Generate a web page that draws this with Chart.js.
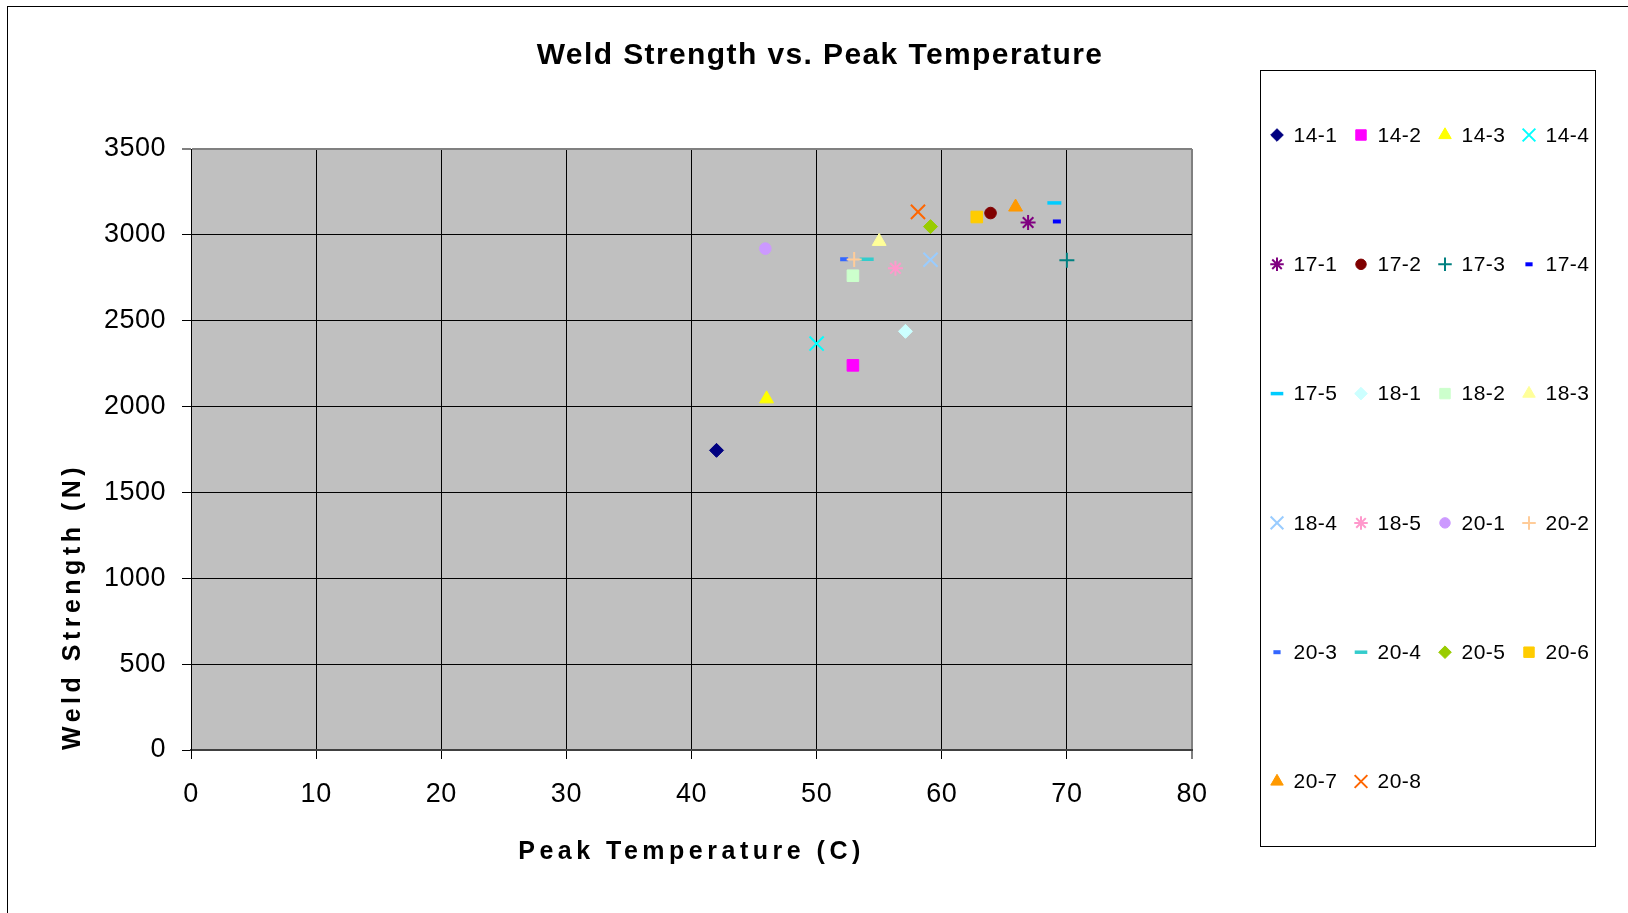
<!DOCTYPE html>
<html>
<head>
<meta charset="utf-8">
<title>Weld Strength vs. Peak Temperature</title>
<script src="https://cdn.jsdelivr.net/npm/chart.js@4.4.1/dist/chart.umd.min.js"></script>
<style>
  html, body { margin: 0; padding: 0; background: #fff; }
  canvas { display: block; }
</style>
</head>
<body>
<canvas id="weldChart" width="1628" height="913"></canvas>
<script>
// one point per weld sample
const seriesNames = ['14-1', '14-2', '14-3', '14-4', '17-1', '17-2', '17-3', '17-4', '17-5', '18-1', '18-2',
  '18-3', '18-4', '18-5', '20-1', '20-2', '20-3', '20-4', '20-5', '20-6', '20-7', '20-8'];
const peakTemps = [42, 52.9, 46, 50, 66.9, 63.9, 70, 69.2, 69, 57.1, 52.9,
  55, 59.1, 56.3, 45.9, 53, 52.2, 54, 59.1, 62.8, 65.9, 58.1];
const weldStrengths = [1745, 2240, 2045, 2367, 3072, 3127, 2852, 3078, 3186, 2438, 2762,
  2962, 2855, 2805, 2920, 2857, 2858, 2858, 3048, 3104, 3162, 3134];

const xTickValues = [0, 10, 20, 30, 40, 50, 60, 70, 80];
const yTickValues = [0, 500, 1000, 1500, 2000, 2500, 3000, 3500];

const seriesColors = ['#000080', '#FF00FF', '#FFFF00', '#00FFFF', '#800080', '#800000', '#008080', '#0000FF',
  '#00CCFF', '#CCFFFF', '#CCFFCC', '#FFFF99', '#99CCFF', '#FF99CC', '#CC99FF', '#FFCC99', '#3366FF', '#33CCCC',
  '#99CC00', '#FFCC00', '#FF9900', '#FF6600'];
const seriesMarkers = ['diamond', 'square', 'triangle', 'x', 'star', 'circle', 'plus', 'dashS', 'dashL',
  'diamond', 'square', 'triangle', 'x', 'star', 'circle', 'plus', 'dashS', 'dashL', 'diamond', 'square',
  'triangle', 'x'];

const FONT = "'Liberation Sans', Arial, sans-serif";

const MARKERS = {
  diamond: { pointStyle: 'rectRot', radius: 7, fill: true },
  square: { pointStyle: 'rect', radius: 8.2, fill: true },
  triangle: { pointStyle: 'triangle', radius: 8, fill: true },
  circle: { pointStyle: 'circle', radius: 5.8, fill: true },
  x: { pointStyle: 'crossRot', radius: 10, width: 2 },
  star: { pointStyle: 'star', radius: 7.5, width: 2 },
  plus: { pointStyle: 'cross', radius: 7.5, width: 2 },
  dashS: { pointStyle: 'line', radius: 4, width: 4 },
  dashL: { pointStyle: 'line', radius: 7, width: 3.5 }
};

const canvas = document.getElementById('weldChart');
const ctx = canvas.getContext('2d');

// Excel-style spaced out lettering: choose a letter spacing from whatever font gets set
const fontProp = Object.getOwnPropertyDescriptor(CanvasRenderingContext2D.prototype, 'font');
Object.defineProperty(ctx, 'font', {
  get() { return fontProp.get.call(this); },
  set(value) {
    fontProp.set.call(this, value);
    const size = parseFloat((value.match(/([\d.]+)px/) || [0, 12])[1]);
    const bold = /bold/.test(value);
    this.letterSpacing = bold ? (size >= 28 ? '1.4px' : '4.5px') : '0.5px';
  }
});

const datasets = seriesNames.map((name, i) => {
  const m = MARKERS[seriesMarkers[i]];
  return {
    label: name,
    data: [{ x: peakTemps[i], y: weldStrengths[i] }],
    pointStyle: m.pointStyle,
    pointRadius: m.radius,
    backgroundColor: m.fill ? seriesColors[i] : 'rgba(0,0,0,0)',
    borderColor: seriesColors[i],
    borderWidth: m.fill ? 1 : m.width
  };
});

const drawLegend = (chart) => {
  const c = chart.ctx;
  c.save();
  c.fillStyle = '#fff';
  c.fillRect(1260.5, 70.5, 335, 776);
  c.strokeStyle = '#000';
  c.lineWidth = 1;
  c.strokeRect(1260.5, 70.5, 335, 776);
  chart.data.datasets.forEach((ds, i) => {
    const col = i % 4;
    const row = Math.floor(i / 4);
    const x = 1277 + col * 84;
    const y = 135 + row * 129.3;
    c.fillStyle = ds.backgroundColor;
    c.strokeStyle = ds.borderColor;
    c.lineWidth = ds.borderWidth;
    Chart.helpers.drawPoint(c, {
      pointStyle: ds.pointStyle,
      radius: ds.pointRadius * 0.9,
      borderWidth: ds.borderWidth,
      rotation: 0
    }, x, y);
    c.font = '21px ' + FONT;
    c.textAlign = 'left';
    c.textBaseline = 'middle';
    c.fillStyle = '#000';
    c.fillText(ds.label, x + 16.5, y + 1);
  });
  c.restore();
};

// reserves the right hand strip and paints the legend there
const legendPanel = {
  id: 'legendPanel',
  beforeInit(chart) {
    Chart.layouts.addBox(chart, {
      position: 'right',
      weight: 10,
      fullSize: false,
      options: {},
      top: 0, left: 0, right: 0, bottom: 0, width: 0, height: 0,
      isHorizontal() { return false; },
      update(maxWidth, maxHeight) { this.width = 436; this.height = maxHeight; },
      draw() { drawLegend(chart); }
    });
  }
};

const plotBackdrop = {
  id: 'plotBackdrop',
  beforeDraw(chart) {
    const c = chart.ctx;
    const a = chart.chartArea;
    c.save();
    c.strokeStyle = '#000';
    c.lineWidth = 1;
    c.strokeRect(7.5, 6.5, chart.width + 10, chart.height + 10);
    c.fillStyle = '#c0c0c0';
    c.fillRect(a.left, a.top, a.right - a.left, a.bottom - a.top);
    c.restore();
  }
};

new Chart(ctx, {
  type: 'scatter',
  data: { datasets },
  plugins: [legendPanel, plotBackdrop],
  options: {
    responsive: false,
    animation: false,
    devicePixelRatio: 1,
    events: [],
    layout: { padding: { left: 12, right: 0, top: 0, bottom: 0 } },
    plugins: {
      legend: { display: false },
      tooltip: { enabled: false },
      title: {
        display: true,
        text: 'Weld Strength vs. Peak Temperature',
        color: '#000',
        font: { size: 30, weight: 'bold', family: FONT },
        padding: { top: 38, bottom: 75 }
      }
    },
    scales: {
      x: {
        type: 'linear',
        position: 'bottom',
        min: 0,
        max: 80,
        afterBuildTicks: (s) => { s.ticks = xTickValues.map(v => ({ value: v })); },
        afterFit: (s) => { s.height = 163; },
        grid: {
          color: (c) => (c.tick && c.tick.value === 80 ? '#808080' : '#000'),
          lineWidth: (c) => (c.tick && c.tick.value === 80 ? 2 : 1),
          tickLength: 9,
          tickColor: '#000',
          tickWidth: 1
        },
        border: { color: '#404040', width: 2 },
        ticks: {
          color: '#000',
          font: { size: 27, family: FONT },
          padding: 19,
          maxRotation: 0,
          autoSkip: false,
          callback: (v) => String(v)
        },
        title: {
          display: true,
          text: 'Peak Temperature (C)',
          color: '#000',
          font: { size: 25, weight: 'bold', family: FONT },
          padding: { top: 0, bottom: 46 }
        }
      },
      y: {
        type: 'linear',
        min: 0,
        max: 3500,
        afterBuildTicks: (s) => { s.ticks = yTickValues.map(v => ({ value: v })); },
        afterFit: (s) => { s.width = 179; },
        grid: {
          color: (c) => (c.tick && c.tick.value === 3500 ? '#808080' : '#000'),
          lineWidth: (c) => (c.tick && c.tick.value === 3500 ? 2 : 1),
          tickLength: 9,
          tickColor: '#000',
          tickWidth: 1
        },
        border: { color: '#000', width: 1 },
        ticks: {
          color: '#000',
          font: { size: 27, family: FONT },
          padding: 16,
          autoSkip: false,
          callback: (v) => String(v)
        },
        title: {
          display: true,
          text: 'Weld Strength (N)',
          align: 'start',
          color: '#000',
          font: { size: 25, weight: 'bold', family: FONT },
          padding: { top: 46, bottom: 0 }
        }
      }
    }
  }
});
</script>
</body>
</html>
